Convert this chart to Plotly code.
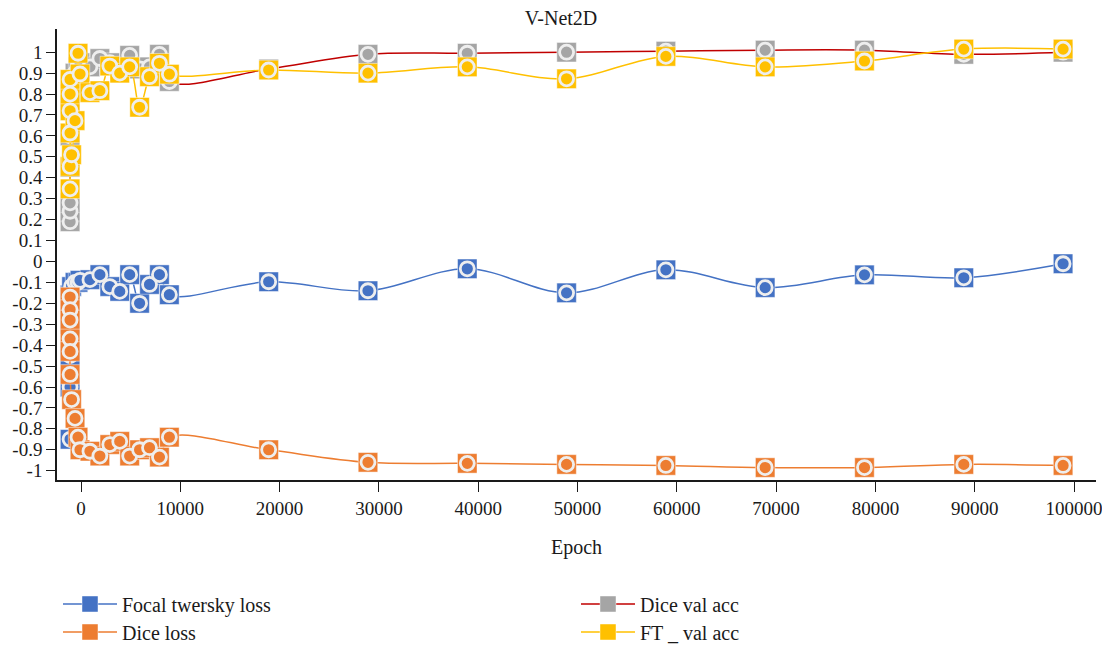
import plotly.graph_objects as go

# ---- data (x) ----
epoch = [-1100, -1100, -1100, -1100, -1100, -1100, -950, -600, -300, -100,
         900, 1900, 2900, 3900, 4900, 5900, 6900, 7900, 8900,
         18900, 28900, 38900, 48900, 58900, 68900, 78900, 88900, 98900]

focal_twersky_loss = [-0.85, -0.6, -0.45, -0.3, -0.2, -0.16, -0.12, -0.1, -0.1, -0.09,
                      -0.087, -0.063, -0.12, -0.143, -0.063, -0.2, -0.11, -0.063, -0.159,
                      -0.097, -0.14, -0.035, -0.15, -0.04, -0.125, -0.064, -0.078, -0.011]

dice_loss = [-0.17, -0.23, -0.28, -0.37, -0.43, -0.54, -0.66, -0.75, -0.84, -0.90,
             -0.907, -0.93, -0.875, -0.86, -0.93, -0.90, -0.89, -0.935, -0.84,
             -0.90, -0.96, -0.965, -0.97, -0.975, -0.985, -0.985, -0.97, -0.975]

dice_val_acc = [0.19, 0.24, 0.28, 0.45, 0.6, 0.75, 0.85, 0.9, 0.93, 0.95,
                0.93, 0.97, 0.95, 0.93, 0.985, 0.92, 0.93, 0.99, 0.86,
                0.92, 0.99, 0.995, 1.0, 1.005, 1.01, 1.01, 0.99, 1.0]

ft_val_acc = [0.347, 0.454, 0.614, 0.72, 0.8, 0.87, 0.51, 0.673, 0.995, 0.896,
              0.807, 0.816, 0.934, 0.9, 0.93, 0.737, 0.883, 0.947, 0.895,
              0.915, 0.9, 0.93, 0.873, 0.98, 0.93, 0.958, 1.015, 1.015]

series_names = ["Focal twersky loss", "Dice loss", "Dice val acc", "FT _ val acc"]
marker_colors = ["#4472C4", "#ED7D31", "#A5A5A5", "#FFC000"]
line_colors = ["#4472C4", "#ED7D31", "#C00000", "#FFC000"]

x_tickvals = [0, 10000, 20000, 30000, 40000, 50000, 60000, 70000, 80000, 90000, 100000]
x_ticktext = ["0", "10000", "20000", "30000", "40000", "50000", "60000", "70000",
              "80000", "90000", "100000"]
y_tickvals = [1, 0.9, 0.8, 0.7, 0.6, 0.5, 0.4, 0.3, 0.2, 0.1, 0,
              -0.1, -0.2, -0.3, -0.4, -0.5, -0.6, -0.7, -0.8, -0.9, -1]
y_ticktext = ["1", "0.9", "0.8", "0.7", "0.6", "0.5", "0.4", "0.3", "0.2", "0.1", "0",
              "-0.1", "-0.2", "-0.3", "-0.4", "-0.5", "-0.6", "-0.7", "-0.8", "-0.9", "-1"]

FONT = "Liberation Serif"
values = [focal_twersky_loss, dice_loss, dice_val_acc, ft_val_acc]
legend_ids = ["legend", "legend3", "legend2", "legend4"]

fig = go.Figure()
for name, ys, mc, lc, lg in zip(series_names, values, marker_colors, line_colors, legend_ids):
    fig.add_trace(go.Scatter(
        x=epoch, y=ys, name=name, mode="lines+markers",
        line=dict(color=lc, width=1.5, shape="spline", smoothing=1),
        marker=dict(symbol="square", size=19.5, color=mc,
                    line=dict(color="rgba(255,255,255,0.45)", width=1)),
        legend=lg, showlegend=True,
    ))
    fig.add_trace(go.Scatter(
        x=epoch, y=ys, mode="markers", showlegend=False, hoverinfo="skip",
        marker=dict(symbol="circle", size=14, color=mc,
                    line=dict(color="#EEEEEE", width=2.8)),
    ))

leg_common = dict(font=dict(family=FONT, size=20, color="#1a1a1a"),
                  bgcolor="rgba(0,0,0,0)", borderwidth=0, itemwidth=54,
                  xref="container", yref="container", xanchor="left", yanchor="middle")

# the page body adds an 8px offset, so margins are shifted by 8px
fig.update_layout(
    width=1110, height=646,
    paper_bgcolor="white", plot_bgcolor="white",
    margin=dict(l=49, r=22, t=21, b=174, autoexpand=False),
    font=dict(family=FONT, size=19, color="#1a1a1a"),
    title=dict(text="V-Net2D", x=553 / 1110, xanchor="center", y=1 - 10 / 646,
               yanchor="middle", font=dict(family=FONT, size=20, color="#1a1a1a")),
    xaxis=dict(range=[-2417, 102215], tickvals=x_tickvals, ticktext=x_ticktext,
               showgrid=False, zeroline=False, showline=True, linecolor="#1a1a1a",
               linewidth=1.5, ticks="outside", ticklen=10, tickwidth=1.2,
               tickcolor="#1a1a1a", tickangle=0,
               title=dict(text="Epoch", standoff=22, font=dict(family=FONT, size=20))),
    yaxis=dict(range=[-1.0445, 1.111], tickvals=y_tickvals, ticktext=y_ticktext,
               showgrid=False, zeroline=False, showline=True, linecolor="#1a1a1a",
               linewidth=1.5, ticks="outside", ticklen=9, tickwidth=1.2,
               tickcolor="#1a1a1a"),
    legend=dict(x=50 / 1110, y=1 - 596 / 646, **leg_common),
    legend3=dict(x=50 / 1110, y=1 - 624 / 646, **leg_common),
    legend2=dict(x=568 / 1110, y=1 - 596 / 646, **leg_common),
    legend4=dict(x=568 / 1110, y=1 - 624 / 646, **leg_common),
)

fig.write_html("out.html")
